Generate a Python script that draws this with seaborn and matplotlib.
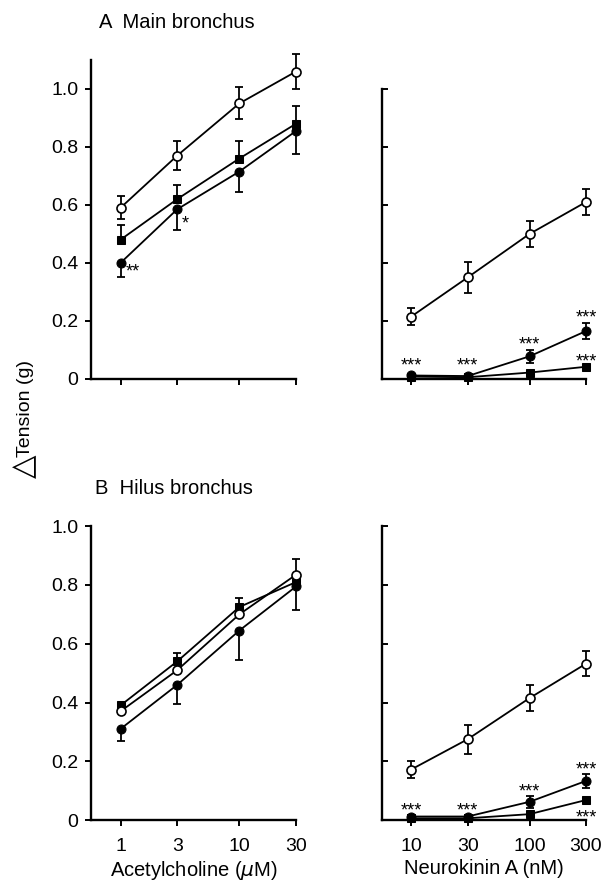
import matplotlib
import matplotlib.pyplot as plt
import seaborn as sns
from matplotlib.ticker import NullLocator

matplotlib.use("Agg")

# concentrations
ach_conc = [1, 3, 10, 30]
nka_conc = [10, 30, 100, 300]
ach_labels = ["1", "3", "10", "30"]
nka_labels = ["10", "30", "100", "300"]

# A  main bronchus, acetylcholine
a_ach_open = [0.59, 0.77, 0.95, 1.06]
a_ach_open_se = [0.04, 0.05, 0.055, 0.06]
a_ach_square = [0.48, 0.62, 0.76, 0.88]
a_ach_square_se = [0.05, 0.05, 0.06, 0.06]
a_ach_filled = [0.40, 0.585, 0.715, 0.855]
a_ach_filled_se = [0.05, 0.07, 0.07, 0.08]

# A  main bronchus, neurokinin A
a_nka_open = [0.215, 0.35, 0.50, 0.61]
a_nka_open_se = [0.028, 0.053, 0.046, 0.044]
a_nka_filled = [0.012, 0.010, 0.078, 0.165]
a_nka_filled_se = [0.005, 0.005, 0.022, 0.027]
a_nka_square = [0.008, 0.006, 0.022, 0.042]
a_nka_square_se = [0.0, 0.0, 0.0, 0.0]

# B  hilus bronchus, acetylcholine
b_ach_square = [0.39, 0.54, 0.725, 0.81]
b_ach_square_se = [0.01, 0.03, 0.03, 0.0]
b_ach_open = [0.37, 0.51, 0.70, 0.835]
b_ach_open_se = [0.0, 0.0, 0.0, 0.053]
b_ach_filled = [0.31, 0.46, 0.645, 0.795]
b_ach_filled_se = [0.042, 0.064, 0.10, 0.08]

# B  hilus bronchus, neurokinin A
b_nka_open = [0.172, 0.275, 0.415, 0.532]
b_nka_open_se = [0.028, 0.049, 0.045, 0.043]
b_nka_filled = [0.012, 0.012, 0.062, 0.133]
b_nka_filled_se = [0.004, 0.004, 0.02, 0.025]
b_nka_square = [0.006, 0.006, 0.02, 0.068]
b_nka_square_se = [0.0, 0.0, 0.0, 0.0]

# significance marks (x, y) - star centres
a_ach_marks = [(1.1, 0.39, "**"), (3.3, 0.556, "*")]
a_nka_marks = [(10, 0.066), (30, 0.066), (100, 0.14), (300, 0.232), (300, 0.079)]
b_nka_marks = [(10, 0.053), (30, 0.053), (100, 0.116), (300, 0.191), (300, 0.028)]

y_ticks = [0, 0.2, 0.4, 0.6, 0.8, 1.0]
y_tick_labels = ["0", "0.2", "0.4", "0.6", "0.8", "1.0"]

sns.set_style("ticks", rc={"text.color": "black", "axes.labelcolor": "black",
                           "xtick.color": "black", "ytick.color": "black",
                           "axes.edgecolor": "black"})
plt.rcParams["font.family"] = ["Liberation Sans", "DejaVu Sans"]

STYLES = {
    "open": dict(marker="o", markerfacecolor="white", markeredgecolor="black", markersize=6.5, markeredgewidth=1.2),
    "filled": dict(marker="o", markerfacecolor="black", markeredgecolor="black", markersize=6.5),
    "square": dict(marker="s", markerfacecolor="black", markeredgecolor="black", markersize=6),
}
STAR_SIZE = 13
STAR_SHIFT = 0.037  # asterisk glyph sits above the baseline


def series(ax, x, y, se, kind, side, z):
    lower = [s if side in ("both", "down") else 0 for s in se]
    upper = [s if side in ("both", "up") else 0 for s in se]
    ax.errorbar(x, y, yerr=[lower, upper], fmt="none", ecolor="black",
                elinewidth=1.3, capsize=3, capthick=1.3, clip_on=False, zorder=z)
    sns.lineplot(x=x, y=y, ax=ax, color="black", linewidth=1.3, clip_on=False,
                 zorder=z + 1, **STYLES[kind])


def style_axis(ax, conc, labels, ymax, left_panel, show_x):
    ax.set_xscale("log")
    ax.set_xlim(conc[0] * 0.565, conc[-1])
    ax.set_ylim(0, ymax)
    ax.set_xticks(conc)
    ax.set_xticklabels(labels if show_x else [])
    ax.xaxis.set_minor_locator(NullLocator())
    ax.set_yticks(y_ticks)
    ax.set_yticklabels(y_tick_labels if left_panel else [])
    sns.despine(ax=ax)
    for s in ("left", "bottom"):
        ax.spines[s].set_linewidth(1.7)
    if not left_panel:
        ax.spines["left"].set_bounds(0, 1.0)
    ax.tick_params(axis="x", direction="out", length=4, width=1.4, labelsize=14, pad=9)
    ax.tick_params(axis="y", direction="out" if left_panel else "in", length=4,
                   width=1.4, labelsize=14, pad=5)
    ax.set_xlabel("")
    ax.set_ylabel("")


def stars(ax, pts):
    for p in pts:
        x, y = p[0], p[1]
        text = p[2] if len(p) > 2 else "***"
        ax.text(x, y - STAR_SHIFT, text, ha="left" if len(p) > 2 else "center",
                va="baseline", fontsize=STAR_SIZE)


fig = plt.figure(figsize=(6.11, 8.85), dpi=100)
tl = fig.add_axes([0.149, 0.5718, 0.3355, 0.3605])
tr = fig.add_axes([0.625, 0.5718, 0.334, 0.3605])
bl = fig.add_axes([0.149, 0.0734, 0.3355, 0.332])
br = fig.add_axes([0.625, 0.0734, 0.334, 0.332])

series(tl, ach_conc, a_ach_open, a_ach_open_se, "open", "both", 3)
series(tl, ach_conc, a_ach_square, a_ach_square_se, "square", "up", 5)
series(tl, ach_conc, a_ach_filled, a_ach_filled_se, "filled", "down", 7)
style_axis(tl, ach_conc, ach_labels, 1.1, True, False)
stars(tl, a_ach_marks)

series(tr, nka_conc, a_nka_open, a_nka_open_se, "open", "both", 3)
series(tr, nka_conc, a_nka_square, a_nka_square_se, "square", "none", 5)
series(tr, nka_conc, a_nka_filled, a_nka_filled_se, "filled", "both", 7)
style_axis(tr, nka_conc, nka_labels, 1.1, False, False)
stars(tr, a_nka_marks)

series(bl, ach_conc, b_ach_square, b_ach_square_se, "square", "up", 3)
series(bl, ach_conc, b_ach_open, b_ach_open_se, "open", "up", 5)
series(bl, ach_conc, b_ach_filled, b_ach_filled_se, "filled", "down", 7)
style_axis(bl, ach_conc, ach_labels, 1.0, True, True)

series(br, nka_conc, b_nka_open, b_nka_open_se, "open", "both", 3)
series(br, nka_conc, b_nka_square, b_nka_square_se, "square", "none", 5)
series(br, nka_conc, b_nka_filled, b_nka_filled_se, "filled", "both", 7)
style_axis(br, nka_conc, nka_labels, 1.0, False, True)
stars(br, b_nka_marks)

bl.set_xlabel("Acetylcholine ($\\mu$M)", fontsize=14.5, labelpad=3)
br.set_xlabel("Neurokinin A (nM)", fontsize=14.5, labelpad=3)

fig.text(99 / 611, 1 - 22 / 885, "A  Main bronchus", fontsize=14.5, ha="left", va="center")
fig.text(95 / 611, 1 - 488 / 885, "B  Hilus bronchus", fontsize=14.5, ha="left", va="center")
fig.text(26 / 611, 1 - 408 / 885, "Tension (g)", fontsize=14, rotation=90, ha="center", va="center")
fig.text(24 / 611, 1 - 466 / 885, "\u25b3", fontsize=22, rotation=90, ha="center", va="center")

fig.savefig("out.png", dpi=100)
plt.close(fig)
